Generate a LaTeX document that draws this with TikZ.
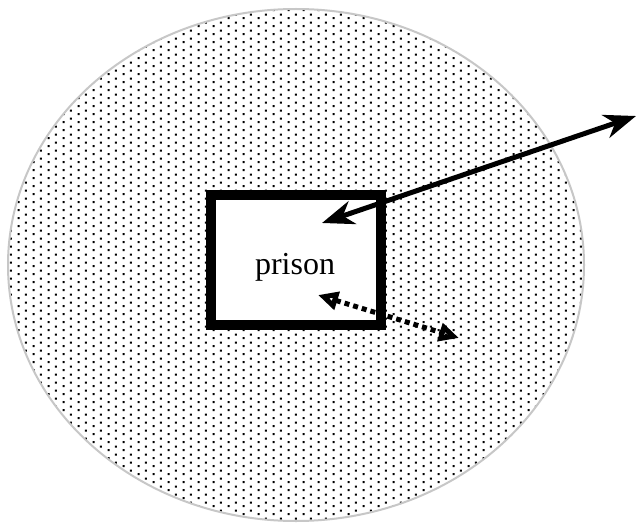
\documentclass[tikz,border=0pt]{standalone}
\usepackage{fontspec}
\setmainfont{Liberation Serif}
\usetikzlibrary{arrows.meta,patterns}
\pgfdeclarepatternformonly{finedots}{\pgfpoint{0pt}{0pt}}{\pgfpoint{7.65pt}{3.8pt}}{\pgfpoint{7.65pt}{3.8pt}}{%
  \pgfpathrectangle{\pgfpoint{1.35pt}{0.45pt}}{\pgfpoint{1.05pt}{1.05pt}}%
  \pgfpathrectangle{\pgfpoint{5.15pt}{2.35pt}}{\pgfpoint{1.05pt}{1.05pt}}%
  \pgfusepath{fill}}
\begin{document}
\begin{tikzpicture}[x=0.5pt,y=-0.5pt,
  region/.style={draw=black!22,line width=1pt,pattern=finedots,pattern color=black},
  prisonbox/.style={draw=black,fill=white,line width=5pt,minimum width=85pt,minimum height=65pt,inner sep=0pt},
  lbl/.style={font=\fontsize{16pt}{19pt}\selectfont,inner sep=0pt},
  solidarrow/.style={line width=2.5pt,{Stealth[length=16pt,width=12pt,inset=5pt]}-{Stealth[length=16pt,width=12pt,inset=5pt]}},
  dotarrow/.style={line width=2.5pt,dash pattern=on 2.5pt off 2pt,{Triangle[open,length=10pt,width=9pt,line width=2.5pt]}-{Triangle[open,length=10pt,width=9pt,line width=2.5pt]}}
]
\useasboundingbox (0,0) rectangle (637,524);
\fill[white] (0,0) rectangle (637,524);
\draw[region] (296,265) ellipse [x radius=288, y radius=256];
\node[prisonbox] (prison) at (295.5,260) {};
\node[lbl,anchor=base] (prisonlabel) at (295,274) {prison};
\coordinate (innerA) at (322,223);
\coordinate (outside) at (636,116);
\coordinate (innerB) at (318,295);
\coordinate (nearby) at (459,338);
\draw[solidarrow] (innerA) -- (outside);
\draw[dotarrow] (innerB) -- (nearby);
\end{tikzpicture}
\end{document}
